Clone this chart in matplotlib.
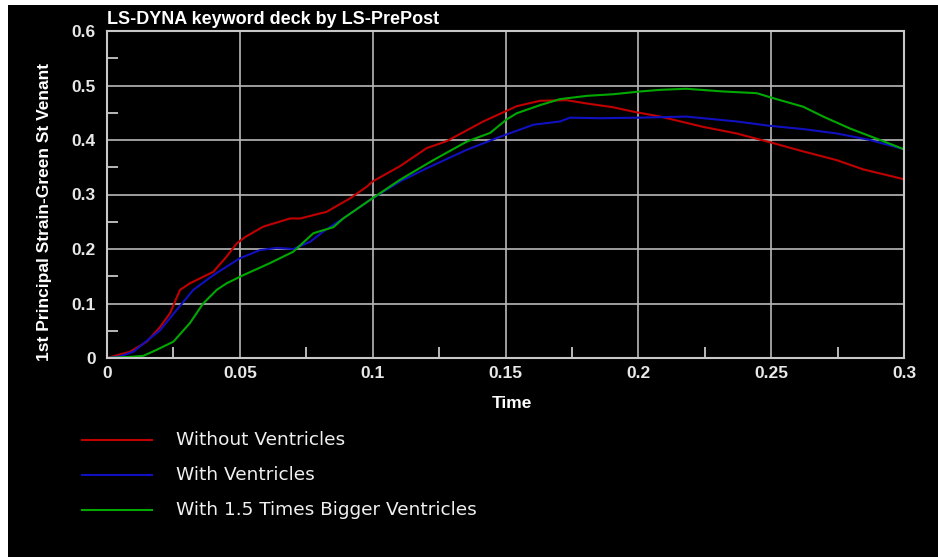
import matplotlib.pyplot as plt
from matplotlib.patches import Rectangle
from matplotlib.ticker import MultipleLocator, FuncFormatter

t_without = [0, 0.0087, 0.015, 0.02, 0.0237, 0.0275, 0.0312, 0.040, 0.045, 0.0488, 0.052,
             0.0588, 0.0689, 0.0727, 0.080, 0.0826, 0.0915, 0.0977, 0.1, 0.1103, 0.1203,
             0.1279, 0.1416, 0.1542, 0.163, 0.173, 0.1806, 0.1906, 0.1981, 0.2082, 0.2245,
             0.237, 0.2502, 0.2621, 0.2747, 0.2847, 0.3]
s_without = [0, 0.0116, 0.03, 0.057, 0.082, 0.125, 0.137, 0.158, 0.186, 0.210, 0.222,
             0.241, 0.256, 0.256, 0.265, 0.268, 0.293, 0.314, 0.324, 0.352, 0.385,
             0.398, 0.434, 0.462, 0.472, 0.473, 0.467, 0.460, 0.452, 0.443, 0.424,
             0.412, 0.395, 0.379, 0.363, 0.346, 0.328]

t_with = [0, 0.005, 0.0099, 0.02, 0.0262, 0.0325, 0.040, 0.050, 0.0576, 0.0639, 0.0701,
          0.0764, 0.0814, 0.0889, 0.099, 0.1103, 0.1203, 0.1354, 0.148, 0.1605, 0.1705,
          0.1743, 0.1856, 0.2006, 0.218, 0.237, 0.2496, 0.2621, 0.2747, 0.2872, 0.3]
s_with = [0, 0.003, 0.0116, 0.051, 0.088, 0.125, 0.152, 0.183, 0.198, 0.202, 0.200,
          0.213, 0.232, 0.256, 0.290, 0.324, 0.348, 0.382, 0.406, 0.428, 0.434,
          0.441, 0.440, 0.441, 0.443, 0.434, 0.426, 0.420, 0.412, 0.400, 0.383]

t_big = [0, 0.0099, 0.0137, 0.0187, 0.025, 0.0312, 0.0362, 0.0413, 0.045, 0.0513, 0.0613,
         0.0701, 0.0777, 0.0852, 0.0889, 0.099, 0.1103, 0.1228, 0.1354, 0.1442, 0.1505,
         0.1542, 0.163, 0.1705, 0.1806, 0.1906, 0.2006, 0.2082, 0.218, 0.232, 0.2445,
         0.252, 0.2621, 0.2696, 0.2797, 0.291, 0.3]
s_big = [0, 0.0024, 0.004, 0.015, 0.030, 0.064, 0.100, 0.125, 0.137, 0.152, 0.174,
         0.195, 0.229, 0.240, 0.256, 0.290, 0.327, 0.363, 0.397, 0.413, 0.438,
         0.449, 0.464, 0.475, 0.481, 0.484, 0.489, 0.492, 0.494, 0.489, 0.486,
         0.475, 0.461, 0.443, 0.421, 0.400, 0.383]

labels = ["Without Ventricles", "With Ventricles", "With 1.5 Times Bigger Ventricles"]
colors = ["#c00000", "#1010c0", "#00a800"]
x_ticks = [0, 0.05, 0.1, 0.15, 0.2, 0.25, 0.3]
y_ticks = [0, 0.1, 0.2, 0.3, 0.4, 0.5, 0.6]

W, H = 938, 557
fig = plt.figure(figsize=(W / 100, H / 100), dpi=100, facecolor="white")
fig.patches.append(Rectangle((8 / W, 0), 1, (H - 5) / H, transform=fig.transFigure,
                             facecolor="black", edgecolor="none", zorder=-10))

ax = fig.add_axes([107 / W, (H - 358) / H, 797 / W, 327 / H])
ax.set_facecolor("black")

for t, s, c in zip([t_without, t_with, t_big], [s_without, s_with, s_big], colors):
    ax.plot(t, s, color=c, linewidth=1.5)

ax.set_xlim(0, 0.3)
ax.set_ylim(0, 0.6)
ax.set_xticks(x_ticks)
ax.set_yticks(y_ticks)
fmt = FuncFormatter(lambda v, p: f"{v:g}")
ax.xaxis.set_major_formatter(fmt)
ax.yaxis.set_major_formatter(fmt)
ax.xaxis.set_minor_locator(MultipleLocator(0.025))
ax.yaxis.set_minor_locator(MultipleLocator(0.05))

bold = dict(family="Liberation Sans", weight="bold", size=12.5)
for lab in ax.get_xticklabels() + ax.get_yticklabels():
    lab.set_fontfamily("Liberation Sans")
    lab.set_fontweight("bold")
    lab.set_fontsize(12.5)
ax.tick_params(axis="both", which="major", colors="#e8e8e8", length=0)
ax.tick_params(axis="x", which="major", pad=6)
ax.tick_params(axis="y", which="major", pad=8)
ax.tick_params(axis="both", which="minor", direction="in", length=8, width=1.3, color="#c8c8c8")

ax.grid(True, which="major", color="#b8b8b8", linewidth=1.2)
for sp in ax.spines.values():
    sp.set_color("#c8c8c8")
    sp.set_linewidth(1.5)

fig.text(107 / W, 1 - 20 / H, "LS-DYNA keyword deck by LS-PrePost", color="white",
         ha="left", va="center", family="Liberation Sans", weight="bold", size=13)
fig.text(512 / W, 1 - 404 / H, "Time", color="white", ha="center", va="center", **bold)
fig.text(45 / W, 1 - 212 / H, "1st Principal Strain-Green St Venant", color="white",
         ha="center", va="center", rotation=90, **bold)

# legend drawn below the plot
for i, (lab, c) in enumerate(zip(labels, colors)):
    y = 1 - (440 + 35 * i) / H
    fig.add_artist(plt.Line2D([82 / W, 152 / W], [y, y], color=c, linewidth=1.5,
                              transform=fig.transFigure))
    fig.text(176 / W, y, lab, color="#f0f0f0", ha="left", va="center",
             family="DejaVu Sans", size=13.3)

fig.savefig("out.png", dpi=100, facecolor=fig.get_facecolor())
